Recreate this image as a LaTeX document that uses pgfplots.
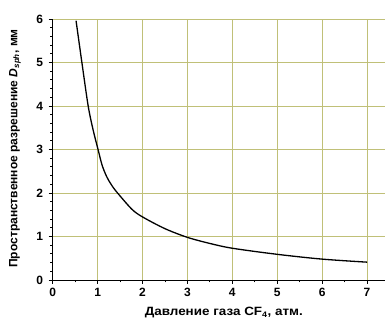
\documentclass[border=0pt]{standalone}
\usepackage{pgfplots}
\pgfplotsset{compat=1.18}
\usepackage{fontspec}
\setmainfont{Liberation Sans}
\newfontfamily\widefont[FakeStretch=1.12]{Liberation Sans}
\definecolor{gridc}{RGB}{192,192,120}
\begin{document}
\begin{tikzpicture}
\useasboundingbox (-52.7pt,-40pt) rectangle (332.3pt,280pt);
\begin{axis}[
  at={(0pt,0pt)}, anchor=south west,
  scale only axis,
  width=332.3pt, height=261pt,
  xmin=0, xmax=7.4, ymin=0, ymax=6,
  axis lines=left,
  axis line style={-, line width=0.9pt, black},
  xtick={0,1,...,7}, ytick={0,1,...,6},
  minor x tick num=1, minor y tick num=4,
  tick align=outside,
  major tick length=4pt, minor tick length=2.5pt,
  tick style={black, line width=0.8pt},
  xmajorgrids, ymajorgrids,
  major grid style={gridc, line width=0.9pt},
  /pgf/number format/assume math mode=true,
  ticklabel style={font=\bfseries\fontsize{12}{14}\selectfont},
  xticklabel style={yshift=-1pt},
  yticklabel style={xshift=-2pt},
  xlabel={\widefont\bfseries Давление газа CF\textsubscript{4}, атм.},
  ylabel={\bfseries Пространственное разрешение {\itshape D}\textsubscript{\itshape sph}, мм},
  label style={font=\bfseries\fontsize{12}{14}\selectfont},
  xlabel style={at={(axis description cs:0.515,0)}, anchor=center, yshift=-33pt},
  ylabel style={at={(axis description cs:0,0.504)}, anchor=center, yshift=37.7pt},
  clip=false,
]
\addplot[black, line width=1.3pt, smooth] coordinates {
(0.52,5.96) (0.65,5.0) (0.79,4.0) (0.9,3.45) (1.01,3.0) (1.1,2.64) (1.2,2.38)
(1.3,2.2) (1.42,2.03) (1.76,1.63) (2.0,1.45) (2.5,1.18) (3.0,0.98) (3.5,0.84)
(4.0,0.73) (5.0,0.59) (6.0,0.48) (7.0,0.41)
};
\end{axis}
\end{tikzpicture}
\end{document}
